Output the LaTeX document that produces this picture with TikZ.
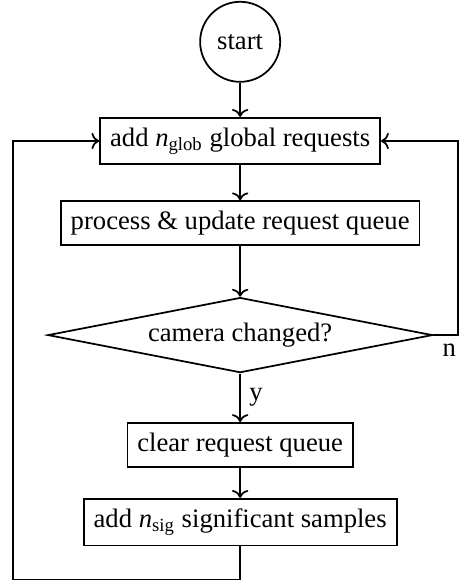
\documentclass[tikz,border=0pt]{standalone}
\usepackage{fontspec}
\setmainfont{Liberation Serif}
\usepackage{tikz}
\usetikzlibrary{arrows.meta, positioning}
\usetikzlibrary{shapes.geometric}

\begin{document}
\begin{tikzpicture}[
    line width=0.7pt,
    font=\fontsize{10.7pt}{13pt}\selectfont,
    stepbox/.style={rectangle,draw,inner sep=4pt},
    decide/.style={diamond,draw,aspect=5,inner sep=0pt,minimum width=5.43cm,minimum height=1.06cm}
  ]
            \useasboundingbox (0,0) rectangle (6.49,-8.30);
            \node[circle,draw,minimum size=1.13cm,inner sep=0pt](start) at (3.39,-0.59) {start};
            \node[stepbox](glob) at (3.39,-1.99) {add \textit{n}\textsubscript{glob} global requests};
            \node[stepbox](proc) at (3.39,-3.15) {process \& update request queue};
            \node[decide](cam) at (3.39,-4.73) {camera changed?};
            \node[stepbox](clear) at (3.39,-6.28) {clear request queue};
            \node[stepbox](sig) at (3.39,-7.37) {add \textit{n}\textsubscript{sig} significant samples};
            \coordinate (lb) at (0.18,-8.18);
            \coordinate (rt) at (6.47,-1.99);
            \draw[->] (start) -- (glob);
            \draw[->] (glob) -- (proc);
            \draw[->] (proc) -- (cam);
            \draw[->] (cam) -- node[right,pos=0.5]{y} (clear);
            \draw[->] (clear) -- (sig);
            \draw[->] (sig.south) |- (lb) |- (glob.west);
            \draw[->] (cam.east) node[below right]{n} -| (rt) -- (glob.east);
        \end{tikzpicture}
\end{document}
